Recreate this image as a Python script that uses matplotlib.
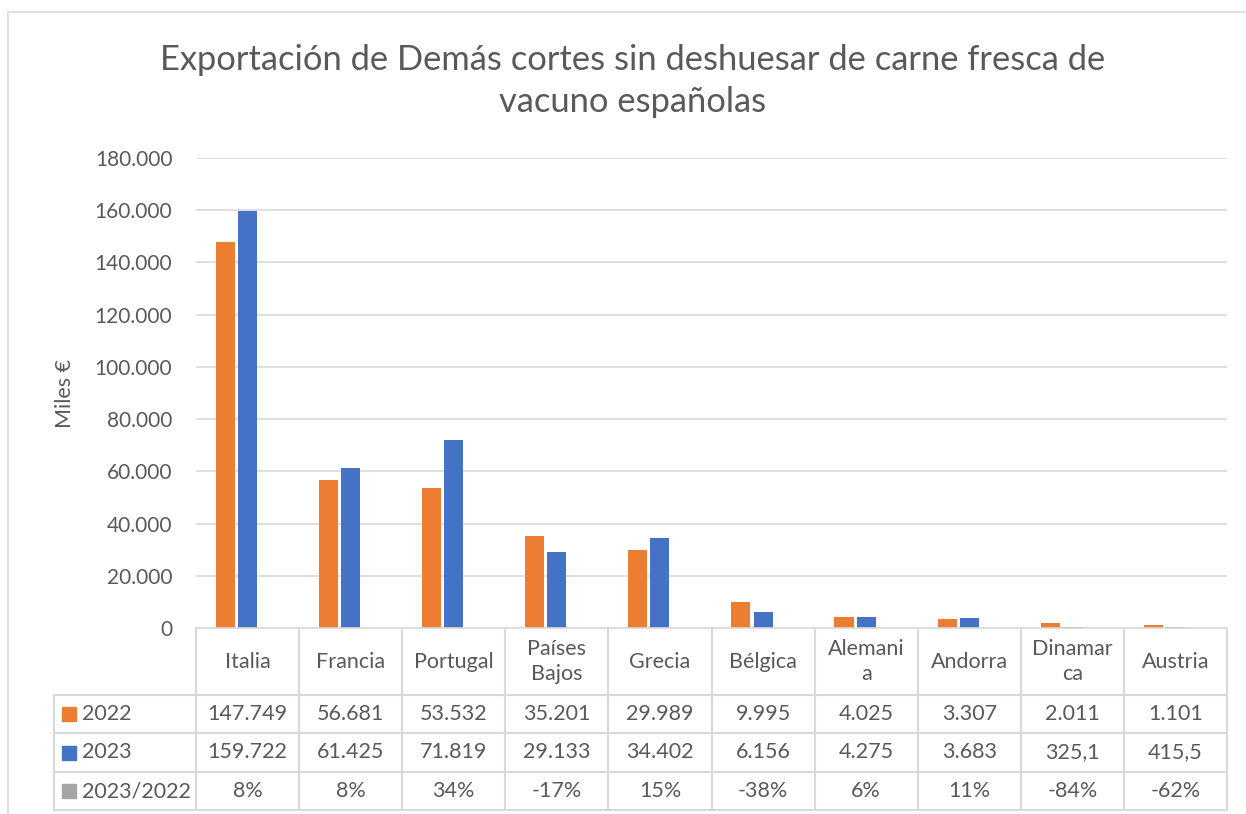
import matplotlib
matplotlib.use("Agg")
import matplotlib.pyplot as plt
from matplotlib.lines import Line2D
from matplotlib.patches import Rectangle
import numpy as np

# data
paises = ["Italia", "Francia", "Portugal", "Países\nBajos", "Grecia", "Bélgica",
          "Alemani\na", "Andorra", "Dinamar\nca", "Austria"]
v2022 = [147749, 56681, 53532, 35201, 29989, 9995, 4025, 3307, 2011, 1101]
v2023 = [159722, 61425, 71819, 29133, 34402, 6156, 4275, 3683, 325.1, 415.5]
ratio = [0.08, 0.08, 0.34, -0.17, 0.15, -0.38, 0.06, 0.11, -0.84, -0.62]

c22 = "#ED7D31"
c23 = "#4472C4"
cr = "#A5A5A5"
grid_c = "#D9D9D9"
txt_c = "#595959"

plt.rcParams['font.family'] = ['Lato', 'DejaVu Sans']

W, H = 1246, 814
fig = plt.figure(figsize=(W / 100, H / 100), dpi=100)


def fx(x):
    return x / W


def fy(y):
    return 1 - y / H


# chart border
fig.add_artist(Rectangle((fx(8), fy(900)), fx(1300), fy(12) - fy(900),
                         transform=fig.transFigure, fill=False,
                         edgecolor=grid_c, lw=1.2))

x0, x1, ytop, ybot = 196, 1227, 158, 628
ax = fig.add_axes([fx(x0), fy(ybot), fx(x1 - x0), fy(ytop) - fy(ybot)])

x = np.arange(len(paises))
bw = 0.185
step = 0.215
ax.bar(x - step, v2022, bw, color=c22)
ax.bar(x, v2023, bw, color=c23)
ax.bar(x + step, ratio, bw, color=cr)

ax.set_xlim(-0.5, len(paises) - 0.5)
ax.set_ylim(0, 180000)
ax.set_yticks(np.arange(0, 180001, 20000))
ax.set_yticklabels([f"{int(t):,}".replace(",", ".") for t in ax.get_yticks()])
ax.tick_params(axis="y", length=0, pad=17, labelsize=15, labelcolor=txt_c)
ax.set_xticks([])
ax.grid(axis="y", color=grid_c, lw=1.2)
ax.set_axisbelow(True)
for s in ["top", "right", "left"]:
    ax.spines[s].set_visible(False)
ax.spines["bottom"].set_color(grid_c)
ax.spines["bottom"].set_linewidth(1.2)

ax.set_ylabel("Miles €", fontsize=15.5, color=txt_c, labelpad=14)

fig.text(fx(633), fy(60), "Exportación de Demás cortes sin deshuesar de carne fresca de",
         ha="center", va="center", fontsize=24.8, color=txt_c)
fig.text(fx(633), fy(102), "vacuno españolas",
         ha="center", va="center", fontsize=24.8, color=txt_c)

# data table
colw = (x1 - x0) / len(paises)
rows_y = [628, 695, 733, 772, 810]
lab_x = 54
for yy in rows_y[1:]:
    fig.add_artist(Line2D([fx(lab_x), fx(x1)], [fy(yy), fy(yy)],
                          transform=fig.transFigure, color=grid_c, lw=1.5))
for k in range(len(paises) + 1):
    xx = x0 + k * colw
    fig.add_artist(Line2D([fx(xx), fx(xx)], [fy(628), fy(810)],
                          transform=fig.transFigure, color=grid_c, lw=1.5))
fig.add_artist(Line2D([fx(lab_x), fx(lab_x)], [fy(695), fy(810)],
                      transform=fig.transFigure, color=grid_c, lw=1.5))


def fmt(v):
    if v >= 1000:
        return f"{v:,.0f}".replace(",", ".")
    return f"{v:.1f}".replace(".", ",")


fs = 15.5
for i, p in enumerate(paises):
    cx = fx(x0 + (i + 0.5) * colw)
    fig.text(cx, fy((628 + 695) / 2), p, ha="center", va="center",
             fontsize=fs, color=txt_c, linespacing=1.3)
    fig.text(cx, fy((695 + 733) / 2), fmt(v2022[i]), ha="center", va="center",
             fontsize=fs, color=txt_c)
    fig.text(cx, fy((733 + 772) / 2), fmt(v2023[i]), ha="center", va="center",
             fontsize=fs, color=txt_c)
    fig.text(cx, fy((772 + 810) / 2), f"{round(ratio[i] * 100):d}%",
             ha="center", va="center", fontsize=fs, color=txt_c)

for (ya, yb), lab, col in zip([(695, 733), (733, 772), (772, 810)],
                              ["2022", "2023", "2023/2022"], [c22, c23, cr]):
    ym = (ya + yb) / 2
    fig.add_artist(Rectangle((fx(62), fy(ym + 7)), fx(14), fy(ym - 7) - fy(ym + 7),
                             transform=fig.transFigure, color=col))
    fig.text(fx(82), fy(ym), lab, ha="left", va="center", fontsize=fs, color=txt_c)

fig.savefig("out.png", dpi=100)
